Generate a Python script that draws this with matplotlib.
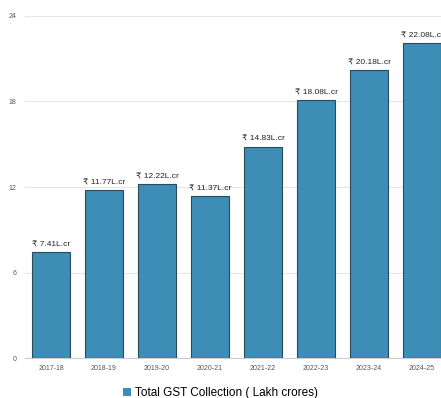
import matplotlib.pyplot as plt
import numpy as np

plt.rcParams['font.family'] = ['Liberation Sans', 'DejaVu Sans']

# data
years = ['2017-18', '2018-19', '2019-20', '2020-21', '2021-22', '2022-23', '2023-24', '2024-25']
gst = [7.41, 11.77, 12.22, 11.37, 14.83, 18.08, 20.18, 22.08]
labels = ['₹ 7.41L.cr', '₹ 11.77L.cr', '₹ 12.22L.cr', '₹ 11.37L.cr',
          '₹ 14.83L.cr', '₹ 18.08L.cr', '₹ 20.18L.cr', '₹ 22.08L.cr']

fig = plt.figure(figsize=(4.41, 3.98), dpi=100)
ax = fig.add_axes([0.0556, 0.1005, 0.9615, 0.8593])

x = np.arange(len(years))
bars = ax.bar(x, gst, width=0.7, color='#3d8db6', edgecolor='#2a4a5c', linewidth=0.8,
              label='Total GST Collection ( Lakh crores)', zorder=3)

for xi, v, t in zip(x, gst, labels):
    ax.text(xi, v + 0.25, t, ha='center', va='bottom', fontsize=6, color='#222222')

ax.set_xlim(-0.5, len(years) - 0.5)
ax.set_ylim(0, 24)
ax.set_yticks([0, 6, 12, 18, 24])
ax.set_xticks(x)
ax.set_xticklabels(years)
ax.tick_params(axis='both', length=0, labelsize=5, colors='#555555')
ax.tick_params(axis='x', pad=5)
ax.tick_params(axis='y', pad=6)
ax.grid(axis='y', color='#e6e6e6', linewidth=0.8, zorder=0)
for s in ['top', 'right', 'left']:
    ax.spines[s].set_visible(False)
ax.spines['bottom'].set_color('#cccccc')
ax.spines['bottom'].set_linewidth(0.8)

leg = fig.legend(handles=[bars], labels=['Total GST Collection ( Lakh crores)'],
                 loc='center', bbox_to_anchor=(0.5, 0.013), frameon=False, fontsize=8.5,
                 handlelength=0.6, handleheight=0.6, handletextpad=0.4)
for h in leg.legend_handles:
    h.set_edgecolor('#3d8db6')

fig.savefig('out.png', dpi=100)
